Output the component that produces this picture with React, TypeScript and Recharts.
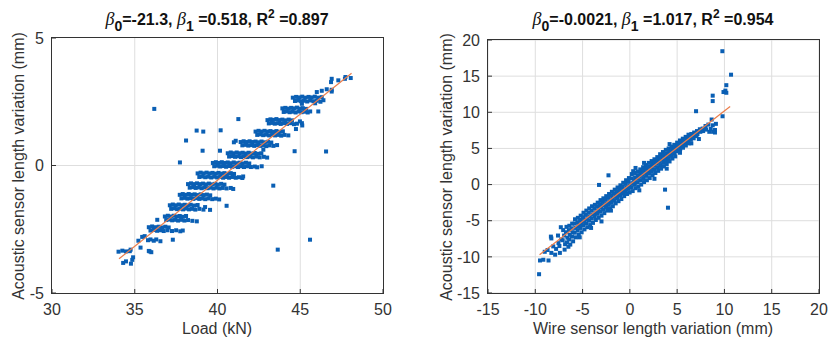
import React from 'react';
import { ScatterChart, Scatter, XAxis, YAxis, CartesianGrid } from 'recharts';

// left panel: load (kN) vs acoustic sensor length variation (mm)
const leftTicksX = [30, 35, 40, 45, 50];
const leftTicksY = [-5, 0, 5];

const leftLowerBands: [number, number][] = [
  [34.02, -3.38], [34.25, -3.34], [34.47, -3.37], [34.7, -3.36], [34.75, -3.3], [34.9, -3.6],
  [34.3, -3.82], [34.47, -3.76], [34.77, -3.85], [34.85, -3.7],
  [35.22, -2.95], [35.45, -2.8], [35.6, -2.77], [35.8, -2.93], [35.95, -2.9], [36.15, -2.95],
  [36.3, -2.9], [36.55, -2.97], [35.85, -3.35], [36.0, -3.4], [35.35, -3.22],
  [35.85, -2.42], [36.05, -2.39], [36.25, -2.42], [36.45, -2.4], [36.65, -2.43], [36.85, -2.4], [37.05, -2.43],
  [35.95, -2.55], [36.15, -2.53], [36.35, -2.56], [36.55, -2.54], [36.75, -2.57], [36.98, -2.54],
  [37.25, -2.57], [37.5, -2.54], [37.75, -2.58], [37.9, -2.55],
  [36.82, -2.0], [37.0, -1.97], [37.18, -2.0], [37.36, -1.97], [37.54, -2.0], [37.72, -1.98], [37.9, -2.01], [38.1, -1.98],
  [36.9, -2.14], [37.08, -2.12], [37.26, -2.15], [37.44, -2.13], [37.62, -2.16], [37.8, -2.13],
  [38.0, -2.16], [38.22, -2.14], [38.48, -2.17], [38.75, -2.19],
  [37.12, -1.56], [37.3, -1.53], [37.48, -1.56], [37.66, -1.53], [37.84, -1.56], [38.02, -1.54],
  [38.2, -1.57], [38.38, -1.54], [38.58, -1.57], [38.8, -1.55],
  [37.2, -1.7], [37.38, -1.68], [37.56, -1.71], [37.74, -1.69], [37.92, -1.72], [38.1, -1.69],
  [38.28, -1.72], [38.46, -1.7], [38.66, -1.73], [38.9, -1.7], [39.15, -1.73], [39.25, -1.63],
  [37.72, -1.15], [37.9, -1.12], [38.08, -1.15], [38.26, -1.12], [38.44, -1.15], [38.62, -1.13],
  [38.8, -1.16], [38.98, -1.13], [39.16, -1.16], [39.36, -1.14], [39.56, -1.17],
  [37.82, -1.29], [38.0, -1.27], [38.18, -1.3], [38.36, -1.28], [38.54, -1.31], [38.72, -1.28],
  [38.9, -1.31], [39.08, -1.29], [39.26, -1.32], [39.46, -1.29], [39.68, -1.32], [39.9, -1.3], [40.1, -1.33],
];

const leftUpperBands: [number, number][] = [
  [38.22, -0.73], [38.4, -0.7], [38.58, -0.73], [38.76, -0.7], [38.94, -0.73], [39.12, -0.71], [39.3, -0.74],
  [39.48, -0.71], [39.66, -0.74], [39.84, -0.72], [40.02, -0.75], [40.22, -0.72], [40.42, -0.75],
  [38.32, -0.87], [38.5, -0.85], [38.68, -0.88], [38.86, -0.86], [39.04, -0.89], [39.22, -0.86], [39.4, -0.89],
  [39.58, -0.87], [39.76, -0.9], [39.94, -0.87], [40.12, -0.9], [40.32, -0.88], [40.55, -0.9], [40.8, -0.88], [40.95, -0.92],
  [38.8, -0.31], [38.98, -0.28], [39.16, -0.31], [39.34, -0.28], [39.52, -0.31], [39.7, -0.29], [39.88, -0.32],
  [40.06, -0.29], [40.24, -0.32], [40.42, -0.3], [40.6, -0.33], [40.8, -0.3], [41.0, -0.33],
  [38.9, -0.45], [39.08, -0.43], [39.26, -0.46], [39.44, -0.44], [39.62, -0.47], [39.8, -0.44], [39.98, -0.47],
  [40.16, -0.45], [40.34, -0.48], [40.52, -0.45], [40.7, -0.48], [40.9, -0.45], [41.1, -0.48], [41.3, -0.46], [41.5, -0.49],
  [39.72, 0.1], [39.9, 0.13], [40.08, 0.1], [40.26, 0.13], [40.44, 0.1], [40.62, 0.12], [40.8, 0.09],
  [40.98, 0.12], [41.16, 0.09], [41.34, 0.11], [41.52, 0.08], [41.72, 0.11], [41.92, 0.08],
  [39.8, -0.03], [39.98, -0.01], [40.16, -0.04], [40.34, -0.02], [40.52, -0.05], [40.7, -0.02], [40.88, -0.05],
  [41.06, -0.03], [41.24, -0.06], [41.42, -0.03], [41.6, -0.06], [41.8, -0.03], [42.02, -0.06], [42.25, -0.04], [42.4, -0.07],
  [40.62, 0.48], [40.8, 0.51], [40.98, 0.48], [41.16, 0.51], [41.34, 0.48], [41.52, 0.5], [41.7, 0.47],
  [41.88, 0.5], [42.06, 0.47], [42.25, 0.49], [42.45, 0.46], [42.65, 0.48],
  [40.7, 0.35], [40.88, 0.37], [41.06, 0.34], [41.24, 0.36], [41.42, 0.33], [41.6, 0.36], [41.78, 0.33],
  [41.96, 0.35], [42.14, 0.32], [42.34, 0.35], [42.55, 0.32], [42.8, 0.34], [43.0, 0.31],
  [41.1, 0.97], [41.4, 0.92], [41.58, 0.95], [41.76, 0.92], [41.94, 0.95], [42.12, 0.92], [42.3, 0.94],
  [42.48, 0.91], [42.66, 0.94], [42.85, 0.91], [43.05, 0.93], [43.25, 0.9],
  [41.5, 0.79], [41.68, 0.81], [41.86, 0.78], [42.04, 0.8], [42.22, 0.77], [42.4, 0.8], [42.58, 0.77],
  [42.76, 0.79], [42.95, 0.76], [43.15, 0.79], [43.38, 0.77], [43.6, 0.8],
  [42.3, 1.33], [42.48, 1.36], [42.66, 1.33], [42.84, 1.36], [43.02, 1.33], [43.2, 1.35], [43.38, 1.32],
  [43.56, 1.35], [43.75, 1.32], [43.95, 1.34],
  [42.4, 1.2], [42.58, 1.22], [42.76, 1.19], [42.94, 1.21], [43.12, 1.18], [43.3, 1.21], [43.48, 1.18],
  [43.66, 1.2], [43.85, 1.17], [44.05, 1.2], [44.28, 1.18],
  [43.02, 1.78], [43.2, 1.81], [43.38, 1.79], [43.56, 1.82], [43.74, 1.78], [43.92, 1.8], [44.1, 1.77],
  [44.3, 1.8], [44.5, 1.77],
  [43.1, 1.65], [43.28, 1.67], [43.46, 1.64], [43.64, 1.66], [43.82, 1.63], [44.0, 1.66], [44.2, 1.63],
  [44.4, 1.66], [44.62, 1.62], [44.8, 1.64],
  [43.92, 2.24], [44.1, 2.26], [44.28, 2.23], [44.45, 2.26], [44.62, 2.24], [44.8, 2.27], [44.98, 2.23],
  [45.15, 2.25], [45.35, 2.22],
  [44.0, 2.1], [44.18, 2.12], [44.36, 2.09], [44.54, 2.11], [44.72, 2.08], [44.9, 2.12], [45.08, 2.09],
  [45.26, 2.11], [45.45, 2.08], [45.6, 2.12],
  [44.55, 2.66], [44.75, 2.69], [44.95, 2.67], [45.12, 2.7], [45.3, 2.66], [45.5, 2.69], [45.68, 2.67],
  [45.88, 2.7], [46.08, 2.66], [46.3, 2.68],
  [44.68, 2.53], [44.88, 2.55], [45.05, 2.52], [45.22, 2.54], [45.42, 2.51], [45.6, 2.55], [45.8, 2.52],
  [46.0, 2.54], [46.22, 2.5], [46.4, 2.56], [45.1, 2.42], [45.9, 2.44],
  [46.0, 2.88], [46.3, 2.93], [46.6, 2.99], [46.9, 2.97], [46.9, 2.9],
  [46.86, 3.27], [46.9, 3.4], [47.3, 3.34], [47.7, 3.4], [47.73, 3.47], [48.05, 3.43],
];

const leftOutliers: [number, number][] = [
  [36.18, 2.22], [41.26, 1.82], [38.74, 1.37], [39.14, 1.33], [40.19, 1.38], [38.1, 0.98], [39.1, 0.58],
  [40.15, 0.58], [44.66, 0.56], [46.56, 0.55], [37.73, 0.12], [43.37, -0.79], [40.55, -1.58], [39.55, -1.74],
  [45.59, -2.91], [43.64, -3.3], [37.3, -2.91], [36.36, -2.13], [45.1, 1.66], [45.12, 1.57], [44.74, 1.43],
  [44.98, 1.73], [46.09, 2.12], [42.77, 0.62], [40.99, 0.91], [42.67, -0.03], [41.55, -0.43], [35.9, -3.37],
];

const leftFit: [number, number][] = [[34.05, -3.66], [48.1, 3.62]];

// right panel: wire sensor vs acoustic sensor length variation (mm)
const rightTicks = [-15, -10, -5, 0, 5, 10, 15, 20];

const rightLowerCloud: [number, number][] = [
  [-9.0, -9.3], [-8.7, -9.05], [-8.35, -7.2], [-8.3, -7.45], [-8.1, -8.55], [-7.8, -8.9], [-7.4, -9.45],
  [-7.9, -9.7], [-8.3, -9.45], [-7.55, -8.1], [-7.25, -7.6], [-7.6, -7.05], [-7.45, -8.5], [-7.3, -5.9],
  [-7.05, -6.3], [-6.95, -7.05], [-7.1, -7.7], [-6.85, -8.25], [-6.9, -9.0],
  [-6.7, -5.85], [-6.75, -6.6], [-6.6, -7.35], [-6.65, -8.0], [-6.5, -8.6],
  [-6.4, -5.7], [-6.45, -6.3], [-6.35, -6.95], [-6.42, -7.6], [-6.3, -8.3],
  [-6.1, -5.4], [-6.15, -6.05], [-6.05, -6.6], [-6.12, -7.2], [-6.0, -7.85],
  [-5.8, -4.8], [-5.85, -5.4], [-5.75, -6.0], [-5.82, -6.65], [-5.7, -7.3],
  [-5.5, -4.6], [-5.55, -5.2], [-5.45, -5.75], [-5.52, -6.3], [-5.4, -6.9], [-5.3, -7.3],
  [-5.2, -4.3], [-5.25, -4.9], [-5.15, -5.45], [-5.22, -6.0], [-5.1, -6.6],
  [-4.9, -3.9], [-4.95, -4.5], [-4.85, -5.05], [-4.92, -5.6], [-4.8, -6.2],
  [-4.6, -3.6], [-4.65, -4.2], [-4.55, -4.8], [-4.62, -5.35], [-4.5, -5.9],
  [-4.3, -3.3], [-4.35, -3.9], [-4.25, -4.45], [-4.32, -5.0], [-4.2, -5.6], [-4.1, -6.0],
  [-4.0, -3.0], [-4.05, -3.6], [-3.95, -4.15], [-4.02, -4.7], [-3.9, -5.3],
  [-3.7, -2.8], [-3.75, -3.3], [-3.65, -3.85], [-3.72, -4.35], [-3.6, -4.9],
  [-3.4, -2.5], [-3.45, -3.0], [-3.35, -3.55], [-3.42, -4.05], [-3.3, -4.6], [-3.0, -5.1],
  [-3.1, -2.15], [-3.15, -2.7], [-3.05, -3.2], [-3.12, -3.75], [-3.0, -4.3],
  [-2.8, -1.9], [-2.85, -2.4], [-2.75, -2.9], [-2.82, -3.45], [-2.7, -3.95],
  [-2.5, -1.6], [-2.55, -2.1], [-2.45, -2.6], [-2.52, -3.1], [-2.4, -3.6],
  [-2.2, -1.3], [-2.25, -1.8], [-2.15, -2.3], [-2.22, -2.8], [-2.1, -3.3], [-2.0, -3.6],
  [-1.9, -1.0], [-1.95, -1.5], [-1.85, -2.0], [-1.92, -2.5], [-1.8, -3.0],
  [-1.6, -0.7], [-1.65, -1.2], [-1.55, -1.7], [-1.62, -2.2], [-1.5, -2.6],
  [-1.3, -0.4], [-1.35, -0.9], [-1.25, -1.4], [-1.32, -1.85], [-1.2, -2.3],
  [-1.0, -0.1], [-1.05, -0.6], [-0.95, -1.05], [-1.02, -1.5], [-0.9, -2.0],
  [-0.7, 0.25], [-0.75, -0.3], [-0.65, -0.75], [-0.72, -1.2], [-0.6, -1.6],
  [-0.4, 0.6], [-0.45, 0.1], [-0.35, -0.4], [-0.42, -0.9], [-0.3, -1.3],
  [-0.1, 0.9], [-0.15, 0.4], [-0.05, -0.1], [-0.12, -0.6], [-0.02, -1.1],
];

const rightUpperCloud: [number, number][] = [
  [0.2, 1.45], [0.15, 0.85], [0.25, 0.2], [0.18, -0.35], [0.3, -0.9], [0.35, 1.85], [0.6, 2.3],
  [0.5, 1.6], [0.55, 1.0], [0.45, 0.5], [0.52, 0.0], [0.6, -0.5],
  [0.8, 1.8], [0.85, 1.3], [0.75, 0.8], [0.82, 0.3], [0.9, -0.3], [1.0, -0.8],
  [1.1, 2.1], [1.15, 1.6], [1.05, 1.1], [1.12, 0.6], [1.2, 0.0],
  [1.4, 2.4], [1.45, 1.9], [1.35, 1.4], [1.42, 0.9], [1.5, 0.35], [1.5, 3.0],
  [1.7, 2.7], [1.75, 2.2], [1.65, 1.7], [1.72, 1.2], [1.8, 0.6],
  [2.0, 3.0], [2.05, 2.5], [1.95, 2.0], [2.02, 1.5], [2.1, 0.9],
  [2.3, 3.25], [2.35, 2.8], [2.25, 2.3], [2.32, 1.8], [2.4, 1.3],
  [2.6, 3.5], [2.65, 3.1], [2.55, 2.6], [2.62, 2.1], [2.7, 1.6], [2.6, 0.8],
  [2.9, 3.8], [2.95, 3.4], [2.85, 2.9], [2.92, 2.4], [3.0, 1.9],
  [3.2, 4.2], [3.25, 3.7], [3.15, 3.2], [3.22, 2.7], [3.3, 2.2],
  [3.5, 4.5], [3.55, 4.0], [3.45, 3.5], [3.52, 3.0], [3.6, 2.5],
  [3.8, 4.8], [3.85, 4.3], [3.75, 3.8], [3.82, 3.3], [3.9, 2.85], [3.9, 2.2],
  [4.1, 5.0], [4.15, 4.6], [4.05, 4.1], [4.12, 3.6], [4.2, 3.2], [4.2, 5.6],
  [4.4, 5.25], [4.45, 4.8], [4.35, 4.4], [4.42, 4.0], [4.5, 3.6],
  [4.7, 5.5], [4.75, 5.1], [4.65, 4.7], [4.72, 4.3], [4.8, 3.9],
  [5.0, 5.8], [5.05, 5.4], [4.95, 5.0], [5.02, 4.6],
  [5.3, 6.1], [5.35, 5.7], [5.25, 5.3], [5.32, 4.9], [5.3, 4.4],
  [5.6, 6.35], [5.65, 5.9], [5.55, 5.5], [5.62, 5.1],
  [5.9, 6.6], [5.95, 6.2], [5.85, 5.8], [5.92, 5.4],
  [6.2, 6.9], [6.25, 6.5], [6.15, 6.1], [6.22, 5.7],
  [6.5, 7.0], [6.55, 6.6], [6.45, 6.2], [6.5, 5.7],
  [6.8, 7.2], [6.85, 6.8], [6.75, 6.4],
  [7.1, 7.4], [7.15, 7.0], [7.05, 6.7], [7.3, 6.3],
  [7.4, 7.65], [7.45, 7.3], [7.7, 7.75], [7.75, 7.4], [8.0, 8.1], [8.05, 7.6], [8.3, 8.3],
];

const rightOutliers: [number, number][] = [
  [-9.6, -12.4], [-9.5, -10.5], [-9.15, -10.4], [-8.6, -10.5], [-3.26, -0.05], [-2.26, 1.28], [3.72, -0.7],
  [4.03, -3.2], [7.0, 10.15], [8.76, 12.3], [8.76, 11.55], [9.78, 18.45], [9.9, 12.8], [10.1, 13.0],
  [10.2, 12.7], [10.2, 13.75], [10.7, 15.2], [9.8, 9.45], [9.1, 8.4], [8.76, 8.2], [8.55, 7.7], [8.4, 7.3],
  [9.0, 7.55], [9.0, 7.2], [8.8, 7.3], [8.65, 9.0],
];

const rightFit: [number, number][] = [[-9.55, -9.7], [10.6, 10.8]];

const toPts = (arr: [number, number][]) => arr.map(([x, y]) => ({ x, y }));

const DOT = '#0a5fb4';
const FIT = '#ec7d4a';
const FRAME = '#333333';
const GRID = '#dedede';
const TEXT = '#333333';

const dot = (p: any) => <rect x={p.cx - 2} y={p.cy - 2} width={4} height={4} fill={DOT} />;
const noDot = () => <g />;

const tickStyle = { fill: TEXT, fontSize: 16 };

interface PanelProps {
  width: number;
  margin: { top: number; right: number; bottom: number; left: number };
  yAxisWidth: number;
  xDomain: [number, number];
  yDomain: [number, number];
  xTicks: number[];
  yTicks: number[];
  points: [number, number][];
  fit: [number, number][];
  gridH?: number[];
  gridV?: number[];
}

const Panel: React.FC<PanelProps> = ({ width, margin, yAxisWidth, xDomain, yDomain, xTicks, yTicks, points, fit, gridH, gridV }) => (
  <ScatterChart width={width} height={342} margin={margin}>
    <CartesianGrid stroke={GRID} horizontalValues={gridH} verticalValues={gridV} />
    <XAxis
      type="number" dataKey="x" domain={xDomain} ticks={xTicks} height={49}
      axisLine={false} tickLine={{ stroke: FRAME }} tick={tickStyle} tickSize={-4} tickMargin={15} allowDataOverflow
    />
    <YAxis
      type="number" dataKey="y" domain={yDomain} ticks={yTicks} width={yAxisWidth}
      axisLine={false} tickLine={{ stroke: FRAME }} tick={tickStyle} tickSize={-4} tickMargin={12} allowDataOverflow
    />
    <Scatter data={toPts(points)} shape={dot} isAnimationActive={false} />
    <Scatter data={toPts(fit)} shape={noDot} line={{ stroke: FIT, strokeWidth: 1.2 }} isAnimationActive={false} />
  </ScatterChart>
);

// box round the plot area, as MATLAB draws it
const Frame: React.FC<{ left: number; top: number; width: number; height: number }> = ({ left, top, width, height }) => (
  <div
    style={{
      position: 'absolute', zIndex: 5, left: left - 1, top: top - 1, width: width + 2, height: height + 2,
      borderStyle: 'solid', borderWidth: 1, borderColor: FRAME, boxSizing: 'border-box', pointerEvents: 'none',
    }}
  />
);

const Title: React.FC<{ left: number; b0: string; b1: string; r2: string }> = ({ left, b0, b1, r2 }) => {
  const beta = { fontFamily: '"Liberation Serif", serif', fontStyle: 'italic' as const, fontWeight: 'normal' as const, fontSize: 18 };
  const sub = { fontSize: 14, position: 'relative' as const, top: 6 };
  const sup = { fontSize: 12, position: 'relative' as const, top: -7 };
  return (
    <div style={{ position: 'absolute', left, top: 9, transform: 'translateX(-50%)', whiteSpace: 'nowrap', fontWeight: 'bold', fontSize: 16, color: '#111' }}>
      <span style={beta}>β</span><span style={sub}>0</span>={b0}, <span style={beta}>β</span><span style={sub}>1</span> ={b1}, R<span style={sup}>2</span> ={r2}
    </div>
  );
};

const YLabel: React.FC<{ cx: number; cy: number; text: string }> = ({ cx, cy, text }) => (
  <div style={{ position: 'absolute', left: cx, top: cy, transform: 'translate(-50%, -50%) rotate(-90deg)', whiteSpace: 'nowrap', fontSize: 16, color: TEXT }}>
    {text}
  </div>
);

const XLabel: React.FC<{ cx: number; top: number; text: string }> = ({ cx, top, text }) => (
  <div style={{ position: 'absolute', left: cx, top, transform: 'translateX(-50%)', whiteSpace: 'nowrap', fontSize: 16, color: TEXT }}>
    {text}
  </div>
);

export default function App() {
  return (
    <div style={{ position: 'absolute', left: 0, top: 0, width: 831, height: 342, background: '#fff', fontFamily: '"Liberation Sans", Arial, sans-serif', overflow: 'hidden' }}>
      <div style={{ position: 'absolute', left: 0, top: 0 }}>
        <Panel
          width={415} margin={{ top: 38, right: 32, bottom: 0, left: 0 }} yAxisWidth={52}
          xDomain={[30, 50]} yDomain={[-5, 5]} xTicks={leftTicksX} yTicks={leftTicksY}
          points={[...leftLowerBands, ...leftUpperBands, ...leftOutliers]} fit={leftFit}
          gridH={[0]} gridV={[35, 40, 45]}
        />
      </div>
      <div style={{ position: 'absolute', left: 415, top: 0 }}>
        <Panel
          width={416} margin={{ top: 40, right: 12, bottom: 0, left: 0 }} yAxisWidth={73}
          xDomain={[-15, 20]} yDomain={[-15, 20]} xTicks={rightTicks} yTicks={rightTicks}
          points={[...rightLowerCloud, ...rightUpperCloud, ...rightOutliers]} fit={rightFit}
        />
      </div>
      <Frame left={52} top={38} width={331} height={255} />
      <Frame left={488} top={40} width={331} height={253} />
      <Title left={217} b0="-21.3" b1="0.518" r2="0.897" />
      <Title left={653} b0="-0.0021" b1="1.017" r2="0.954" />
      <YLabel cx={19} cy={166} text="Acoustic sensor length variation (mm)" />
      <YLabel cx={447} cy={167} text="Acoustic sensor length variation (mm)" />
      <XLabel cx={217} top={320} text="Load (kN)" />
      <XLabel cx={653} top={320} text="Wire sensor length variation (mm)" />
    </div>
  );
}
